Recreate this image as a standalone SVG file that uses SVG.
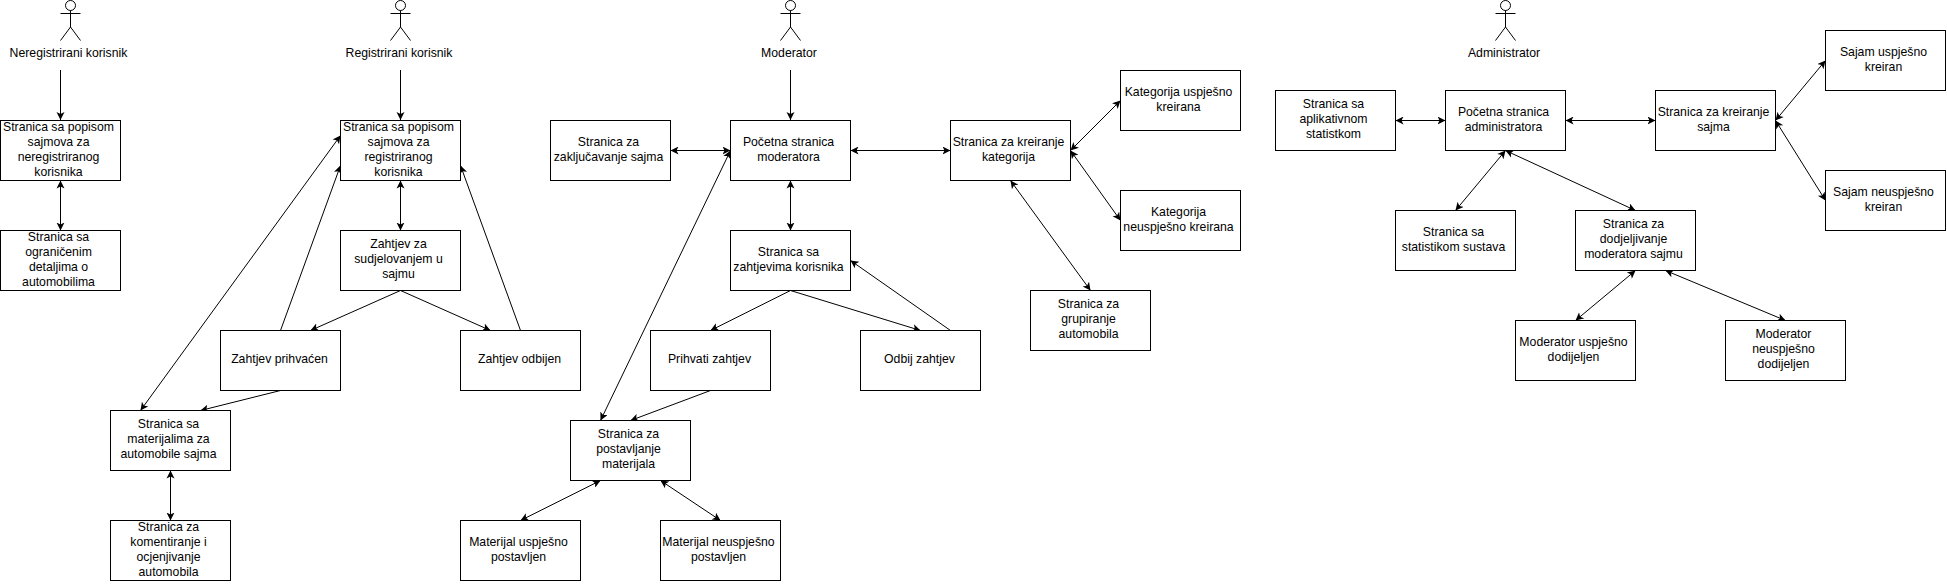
<svg xmlns="http://www.w3.org/2000/svg" width="1947" height="585" viewBox="0 0 1947 585">
<style>
.b{fill:#fff;stroke:#000;stroke-width:1}
.a{fill:none;stroke:#000;stroke-width:1}
text{font-family:"Liberation Sans",Arial,sans-serif;font-size:12.25px;fill:#000;text-anchor:middle}
.c line{stroke:#000;stroke-width:1;fill:none;marker-end:url(#h)}
.c line.d{marker-start:url(#s)}
</style>
<defs>
<marker id="h" markerUnits="userSpaceOnUse" markerWidth="10" markerHeight="10" refX="8" refY="4" orient="auto"><path d="M0,0 L8,4 L0,8 L2,4 Z" fill="#000"/></marker>
<marker id="s" markerUnits="userSpaceOnUse" markerWidth="10" markerHeight="10" refX="0" refY="4" orient="auto"><path d="M8,0 L0,4 L8,8 L6,4 Z" fill="#000"/></marker>
<g id="actor"><circle class="a" cx="0" cy="5.5" r="5"/><path class="a" d="M0,10.5V27M-10,13.5H10M-10,40.5L0,27L10,40.5"/></g>
</defs>
<rect width="1947" height="585" fill="#fff"/>
<g id="connectors" class="c">
<line x1="60.5" y1="70" x2="60.5" y2="120"/>
<line class="d" x1="60.5" y1="180.5" x2="60.5" y2="230.5"/>
<line x1="400.5" y1="70" x2="400.5" y2="120"/>
<line class="d" x1="400.5" y1="180.5" x2="400.5" y2="230.5"/>
<line x1="400.5" y1="290.5" x2="310.5" y2="330.5"/>
<line x1="400.5" y1="290.5" x2="490.5" y2="330.5"/>
<line x1="280.5" y1="330.5" x2="340.5" y2="165.5"/>
<line x1="520.5" y1="330.5" x2="460.5" y2="165.5"/>
<line class="d" x1="340.5" y1="135.5" x2="140.5" y2="410.5"/>
<line x1="280.5" y1="390.5" x2="200.5" y2="410.5"/>
<line class="d" x1="170.5" y1="470.5" x2="170.5" y2="520.5"/>
<line x1="790.5" y1="70" x2="790.5" y2="120"/>
<line class="d" x1="670.5" y1="150.5" x2="730.5" y2="150.5"/>
<line class="d" x1="850.5" y1="150.5" x2="950.5" y2="150.5"/>
<line class="d" x1="790.5" y1="180.5" x2="790.5" y2="230.5"/>
<line x1="790.5" y1="290.5" x2="710.5" y2="330.5"/>
<line x1="790.5" y1="290.5" x2="920.5" y2="330.5"/>
<line x1="950.5" y1="330.5" x2="850.5" y2="260.5"/>
<line class="d" x1="730.5" y1="150.5" x2="600.5" y2="420.5"/>
<line x1="710.5" y1="390.5" x2="630.5" y2="420.5"/>
<line class="d" x1="600.5" y1="480.5" x2="520.5" y2="520.5"/>
<line class="d" x1="660.5" y1="480.5" x2="720.5" y2="520.5"/>
<line class="d" x1="1070.5" y1="150.5" x2="1120.5" y2="100.5"/>
<line class="d" x1="1070.5" y1="150.5" x2="1120.5" y2="220.5"/>
<line class="d" x1="1010.5" y1="180.5" x2="1090.5" y2="290.5"/>
<line class="d" x1="1395.5" y1="120.5" x2="1445.5" y2="120.5"/>
<line class="d" x1="1565.5" y1="120.5" x2="1655.5" y2="120.5"/>
<line class="d" x1="1775.5" y1="120.5" x2="1825.5" y2="60.5"/>
<line class="d" x1="1775.5" y1="120.5" x2="1825.5" y2="200.5"/>
<line class="d" x1="1505.5" y1="150.5" x2="1455.5" y2="210.5"/>
<line class="d" x1="1505.5" y1="150.5" x2="1635.5" y2="210.5"/>
<line class="d" x1="1635.5" y1="270.5" x2="1575.5" y2="320.5"/>
<line class="d" x1="1665.5" y1="270.5" x2="1785.5" y2="320.5"/>
</g>
<g id="a1"><use href="#actor" x="70.5"/><text x="68.5" y="57">Neregistrirani korisnik</text></g>
<g id="a2"><use href="#actor" x="400.5"/><text x="399" y="57">Registrirani korisnik</text></g>
<g id="a3"><use href="#actor" x="790.5"/><text x="789" y="57">Moderator</text></g>
<g id="a4"><use href="#actor" x="1505.5"/><text x="1504" y="57">Administrator</text></g>
<g id="n1"><rect class="b" x="0.5" y="120.5" width="120" height="60"/><text x="58.5" y="131">Stranica sa popisom</text><text x="58.5" y="146">sajmova za</text><text x="58.5" y="161">neregistriranog</text><text x="58.5" y="176">korisnika</text></g>
<g id="n2"><rect class="b" x="0.5" y="230.5" width="120" height="60"/><text x="58.5" y="241">Stranica sa</text><text x="58.5" y="256">ograničenim</text><text x="58.5" y="271">detaljima o</text><text x="58.5" y="286">automobilima</text></g>
<g id="n3"><rect class="b" x="340.5" y="120.5" width="120" height="60"/><text x="398.5" y="131">Stranica sa popisom</text><text x="398.5" y="146">sajmova za</text><text x="398.5" y="161">registriranog</text><text x="398.5" y="176">korisnika</text></g>
<g id="n4"><rect class="b" x="340.5" y="230.5" width="120" height="60"/><text x="398.5" y="248">Zahtjev za</text><text x="398.5" y="263">sudjelovanjem u</text><text x="398.5" y="278">sajmu</text></g>
<g id="n5"><rect class="b" x="220.5" y="330.5" width="120" height="60"/><text x="279.5" y="363">Zahtjev prihvaćen</text></g>
<g id="n6"><rect class="b" x="460.5" y="330.5" width="120" height="60"/><text x="519.5" y="363">Zahtjev odbijen</text></g>
<g id="n7"><rect class="b" x="110.5" y="410.5" width="120" height="60"/><text x="168.5" y="428">Stranica sa</text><text x="168.5" y="443">materijalima za</text><text x="168.5" y="458">automobile sajma</text></g>
<g id="n8"><rect class="b" x="110.5" y="520.5" width="120" height="60"/><text x="168.5" y="531">Stranica za</text><text x="168.5" y="546">komentiranje i</text><text x="168.5" y="561">ocjenjivanje</text><text x="168.5" y="576">automobila</text></g>
<g id="n9"><rect class="b" x="550.5" y="120.5" width="120" height="60"/><text x="608.5" y="146">Stranica za</text><text x="608.5" y="161">zaključavanje sajma</text></g>
<g id="n10"><rect class="b" x="730.5" y="120.5" width="120" height="60"/><text x="788.5" y="146">Početna stranica</text><text x="788.5" y="161">moderatora</text></g>
<g id="n11"><rect class="b" x="950.5" y="120.5" width="120" height="60"/><text x="1008.5" y="146">Stranica za kreiranje</text><text x="1008.5" y="161">kategorija</text></g>
<g id="n12"><rect class="b" x="1120.5" y="70.5" width="120" height="60"/><text x="1178.5" y="96">Kategorija uspješno</text><text x="1178.5" y="111">kreirana</text></g>
<g id="n13"><rect class="b" x="1120.5" y="190.5" width="120" height="60"/><text x="1178.5" y="216">Kategorija</text><text x="1178.5" y="231">neuspješno kreirana</text></g>
<g id="n14"><rect class="b" x="730.5" y="230.5" width="120" height="60"/><text x="788.5" y="256">Stranica sa</text><text x="788.5" y="271">zahtjevima korisnika</text></g>
<g id="n15"><rect class="b" x="1030.5" y="290.5" width="120" height="60"/><text x="1088.5" y="308">Stranica za</text><text x="1088.5" y="323">grupiranje</text><text x="1088.5" y="338">automobila</text></g>
<g id="n16"><rect class="b" x="650.5" y="330.5" width="120" height="60"/><text x="709.5" y="363">Prihvati zahtjev</text></g>
<g id="n17"><rect class="b" x="860.5" y="330.5" width="120" height="60"/><text x="919.5" y="363">Odbij zahtjev</text></g>
<g id="n18"><rect class="b" x="570.5" y="420.5" width="120" height="60"/><text x="628.5" y="438">Stranica za</text><text x="628.5" y="453">postavljanje</text><text x="628.5" y="468">materijala</text></g>
<g id="n19"><rect class="b" x="460.5" y="520.5" width="120" height="60"/><text x="518.5" y="546">Materijal uspješno</text><text x="518.5" y="561">postavljen</text></g>
<g id="n20"><rect class="b" x="660.5" y="520.5" width="120" height="60"/><text x="718.5" y="546">Materijal neuspješno</text><text x="718.5" y="561">postavljen</text></g>
<g id="n21"><rect class="b" x="1275.5" y="90.5" width="120" height="60"/><text x="1333.5" y="108">Stranica sa</text><text x="1333.5" y="123">aplikativnom</text><text x="1333.5" y="138">statistkom</text></g>
<g id="n22"><rect class="b" x="1445.5" y="90.5" width="120" height="60"/><text x="1503.5" y="116">Početna stranica</text><text x="1503.5" y="131">administratora</text></g>
<g id="n23"><rect class="b" x="1655.5" y="90.5" width="120" height="60"/><text x="1713.5" y="116">Stranica za kreiranje</text><text x="1713.5" y="131">sajma</text></g>
<g id="n24"><rect class="b" x="1825.5" y="30.5" width="120" height="60"/><text x="1883.5" y="56">Sajam uspješno</text><text x="1883.5" y="71">kreiran</text></g>
<g id="n25"><rect class="b" x="1825.5" y="170.5" width="120" height="60"/><text x="1883.5" y="196">Sajam neuspješno</text><text x="1883.5" y="211">kreiran</text></g>
<g id="n26"><rect class="b" x="1395.5" y="210.5" width="120" height="60"/><text x="1453.5" y="236">Stranica sa</text><text x="1453.5" y="251">statistikom sustava</text></g>
<g id="n27"><rect class="b" x="1575.5" y="210.5" width="120" height="60"/><text x="1633.5" y="228">Stranica za</text><text x="1633.5" y="243">dodjeljivanje</text><text x="1633.5" y="258">moderatora sajmu</text></g>
<g id="n28"><rect class="b" x="1515.5" y="320.5" width="120" height="60"/><text x="1573.5" y="346">Moderator uspješno</text><text x="1573.5" y="361">dodijeljen</text></g>
<g id="n29"><rect class="b" x="1725.5" y="320.5" width="120" height="60"/><text x="1783.5" y="338">Moderator</text><text x="1783.5" y="353">neuspješno</text><text x="1783.5" y="368">dodijeljen</text></g>
</svg>
